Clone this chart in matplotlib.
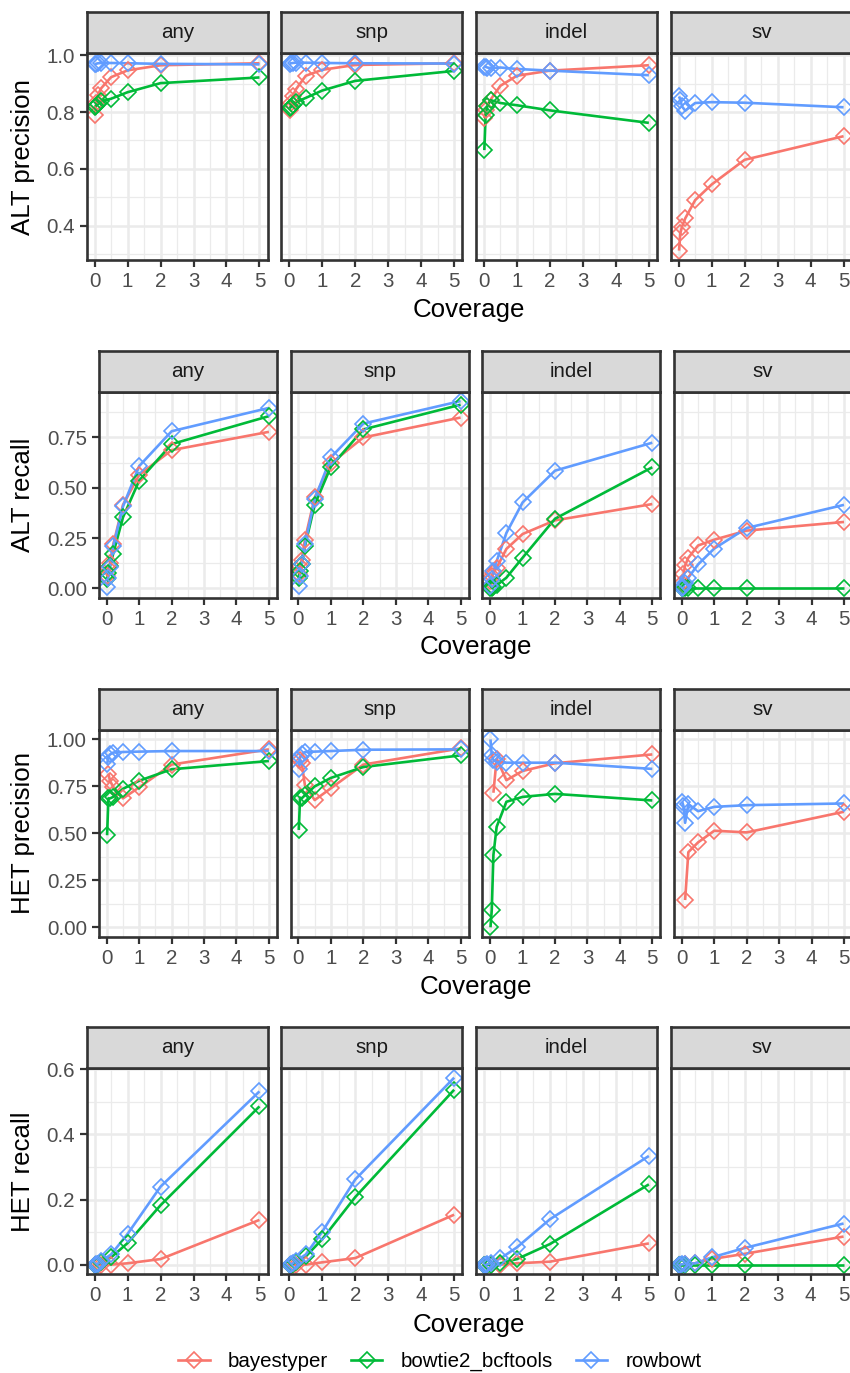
import numpy as np
import matplotlib
matplotlib.use('Agg')
import matplotlib.pyplot as plt
from matplotlib.lines import Line2D
from matplotlib.ticker import FixedLocator, FuncFormatter

plt.rcParams['font.family'] = ['Liberation Sans', 'DejaVu Sans']

nan = np.nan
coverage = [0.01, 0.05, 0.1, 0.2, 0.5, 1, 2, 5]
categories = ['any', 'snp', 'indel', 'sv']
methods = ['bayestyper', 'bowtie2_bcftools', 'rowbowt']
colors = ['#F8766D', '#00BA38', '#619CFF']
metrics = ['ALT precision', 'ALT recall', 'HET precision', 'HET recall']

# ALT precision
alt_prec_bayestyper = {
    'any':   [0.789, 0.832, 0.861, 0.884, 0.923, 0.947, 0.965, 0.972],
    'snp':   [0.809, 0.832, 0.855, 0.880, 0.928, 0.949, 0.966, 0.972],
    'indel': [0.779, 0.808, 0.823, 0.844, 0.893, 0.928, 0.946, 0.965],
    'sv':    [0.312, 0.373, 0.396, 0.426, 0.490, 0.545, 0.632, 0.715],
}
alt_prec_bowtie2 = {
    'any':   [0.818, 0.823, 0.828, 0.838, 0.847, 0.870, 0.902, 0.922],
    'snp':   [0.814, 0.818, 0.825, 0.835, 0.850, 0.876, 0.910, 0.945],
    'indel': [0.666, 0.791, 0.820, 0.842, 0.832, 0.824, 0.806, 0.762],
    'sv':    [nan, nan, nan, nan, nan, nan, nan, nan],
}
alt_prec_rowbowt = {
    'any':   [0.968, 0.970, 0.972, 0.973, 0.973, 0.972, 0.970, 0.968],
    'snp':   [0.970, 0.972, 0.973, 0.974, 0.974, 0.973, 0.972, 0.971],
    'indel': [0.960, 0.960, 0.957, 0.955, 0.957, 0.952, 0.946, 0.930],
    'sv':    [0.855, 0.844, 0.820, 0.805, 0.832, 0.835, 0.833, 0.817],
}

# ALT recall
alt_rec_bayestyper = {
    'any':   [0.061, 0.099, 0.127, 0.218, 0.415, 0.564, 0.687, 0.778],
    'snp':   [0.069, 0.110, 0.143, 0.242, 0.452, 0.621, 0.750, 0.849],
    'indel': [0.036, 0.061, 0.077, 0.102, 0.196, 0.270, 0.338, 0.419],
    'sv':    [0.028, 0.069, 0.114, 0.152, 0.213, 0.242, 0.287, 0.330],
}
alt_rec_bowtie2 = {
    'any':   [0.045, 0.077, 0.110, 0.173, 0.353, 0.536, 0.717, 0.856],
    'snp':   [0.053, 0.086, 0.119, 0.209, 0.415, 0.605, 0.790, 0.913],
    'indel': [0.000, 0.003, 0.008, 0.015, 0.053, 0.152, 0.346, 0.602],
    'sv':    [0.0, 0.0, 0.0, 0.0, 0.0, 0.0, 0.0, 0.0],
}
alt_rec_rowbowt = {
    'any':   [0.008, 0.053, 0.107, 0.209, 0.407, 0.608, 0.781, 0.897],
    'snp':   [0.012, 0.061, 0.119, 0.218, 0.443, 0.651, 0.819, 0.931],
    'indel': [0.012, 0.045, 0.086, 0.135, 0.275, 0.427, 0.585, 0.724],
    'sv':    [0.003, 0.008, 0.028, 0.053, 0.119, 0.198, 0.300, 0.415],
}

# HET precision
het_prec_bayestyper = {
    'any':   [nan, 0.818, 0.780, 0.747, 0.686, 0.745, 0.866, 0.947],
    'snp':   [nan, 0.893, 0.876, 0.755, 0.677, 0.740, 0.866, 0.952],
    'indel': [nan, nan, 0.716, 0.898, 0.783, 0.832, 0.873, 0.920],
    'sv':    [nan, nan, 0.145, 0.400, 0.452, 0.514, 0.505, 0.615],
}
het_prec_bowtie2 = {
    'any':   [0.490, 0.686, 0.686, 0.694, 0.737, 0.780, 0.841, 0.885],
    'snp':   [0.518, 0.690, 0.686, 0.703, 0.750, 0.795, 0.853, 0.915],
    'indel': [0.000, 0.094, 0.385, 0.535, 0.668, 0.694, 0.710, 0.675],
    'sv':    [nan, nan, nan, nan, nan, nan, nan, nan],
}
het_prec_rowbowt = {
    'any':   [0.868, 0.908, 0.920, 0.930, 0.933, 0.935, 0.938, 0.938],
    'snp':   [0.845, 0.906, 0.920, 0.933, 0.935, 0.938, 0.945, 0.947],
    'indel': [1.000, 0.915, 0.890, 0.880, 0.876, 0.876, 0.876, 0.843],
    'sv':    [0.668, 0.645, 0.556, 0.655, 0.618, 0.641, 0.650, 0.659],
}

# HET recall
het_rec_bayestyper = {
    'any':   [0.0, 0.0, 0.0005, 0.001, 0.001, 0.005, 0.018, 0.138],
    'snp':   [0.0, 0.0, 0.0005, 0.001, 0.001, 0.008, 0.021, 0.154],
    'indel': [0.0, 0.0, 0.0, 0.0005, 0.001, 0.005, 0.010, 0.066],
    'sv':    [0.0, 0.0, 0.001, 0.002, 0.005, 0.018, 0.034, 0.087],
}
het_rec_bowtie2 = {
    'any':   [0.0, 0.001, 0.003, 0.008, 0.023, 0.067, 0.183, 0.486],
    'snp':   [0.0, 0.001, 0.003, 0.009, 0.026, 0.079, 0.208, 0.537],
    'indel': [0.0, 0.0, 0.0005, 0.001, 0.005, 0.018, 0.064, 0.247],
    'sv':    [0.0, 0.0, 0.0, 0.0, 0.0, 0.0, 0.0, 0.0],
}
het_rec_rowbowt = {
    'any':   [0.0, 0.002, 0.004, 0.012, 0.032, 0.095, 0.240, 0.532],
    'snp':   [0.0, 0.002, 0.005, 0.012, 0.032, 0.102, 0.262, 0.574],
    'indel': [0.0, 0.001, 0.002, 0.005, 0.020, 0.054, 0.140, 0.334],
    'sv':    [0.0, 0.001, 0.002, 0.003, 0.005, 0.023, 0.052, 0.127],
}

row_data = [
    [alt_prec_bayestyper, alt_prec_bowtie2, alt_prec_rowbowt],
    [alt_rec_bayestyper, alt_rec_bowtie2, alt_rec_rowbowt],
    [het_prec_bayestyper, het_prec_bowtie2, het_prec_rowbowt],
    [het_rec_bayestyper, het_rec_bowtie2, het_rec_rowbowt],
]

x_major = [0, 1, 2, 3, 4, 5]
x_minor = [0.5, 1.5, 2.5, 3.5, 4.5]
y_major = [[0.4, 0.6, 0.8, 1.0], [0.0, 0.25, 0.5, 0.75],
           [0.0, 0.25, 0.5, 0.75, 1.0], [0.0, 0.2, 0.4, 0.6]]
y_minor = [[0.3, 0.5, 0.7, 0.9], [0.125, 0.375, 0.625, 0.875],
           [0.125, 0.375, 0.625, 0.875], [0.1, 0.3, 0.5]]
y_fmt = ['%.1f', '%.2f', '%.2f', '%.1f']

# layout in pixels
W, H = 850, 1373
layout = [
    dict(left=86.7, step=194.7, width=181.0, strip_top=12.0, ptop=53.3, pbot=260.0, xlab=310.0),
    dict(left=99.0, step=191.7, width=178.0, strip_top=350.7, ptop=391.7, pbot=597.7, xlab=646.7),
    dict(left=99.0, step=191.7, width=178.0, strip_top=689.0, ptop=730.0, pbot=936.7, xlab=986.7),
    dict(left=86.7, step=194.7, width=181.0, strip_top=1027.0, ptop=1068.3, pbot=1274.3, xlab=1325.0),
]

fig = plt.figure(figsize=(W / 100, H / 100), dpi=100)


def px_axes(left, top, width, height):
    return fig.add_axes([left / W, 1 - (top + height) / H, width / W, height / H])


BORDER = '#333333'
GRID = '#EBEBEB'
TICKTXT = '#4D4D4D'
LW = 1.9
MS = 8.6
MEW = 1.2
LINEW = 1.9
xmin, xmax = min(coverage), max(coverage)
xpad = 0.05 * (xmax - xmin)

for r in range(4):
    L = layout[r]
    allv = np.concatenate([np.array(d[c], dtype=float) for d in row_data[r] for c in categories])
    ymin, ymax = np.nanmin(allv), np.nanmax(allv)
    ypad = 0.05 * (ymax - ymin)
    for ci, cat in enumerate(categories):
        left = L['left'] + ci * L['step']
        ax = px_axes(left, L['ptop'], L['width'], L['pbot'] - L['ptop'])
        ax.set_xlim(xmin - xpad, xmax + xpad)
        ax.set_ylim(ymin - ypad, ymax + ypad)
        ax.xaxis.set_major_locator(FixedLocator(x_major))
        ax.xaxis.set_minor_locator(FixedLocator(x_minor))
        ax.yaxis.set_major_locator(FixedLocator(y_major[r]))
        ax.yaxis.set_minor_locator(FixedLocator(y_minor[r]))
        ax.xaxis.set_major_formatter(FuncFormatter(lambda v, p: '%d' % v))
        fmt = y_fmt[r]
        ax.yaxis.set_major_formatter(FuncFormatter(lambda v, p, f=fmt: f % v))
        ax.set_axisbelow(True)
        ax.grid(which='major', color=GRID, lw=1.8)
        ax.grid(which='minor', color=GRID, lw=0.9)
        ax.tick_params(which='minor', length=0)
        ax.tick_params(which='major', length=4.7, width=1.6, color=BORDER,
                       labelcolor=TICKTXT, labelsize=14.8, pad=4.0)
        if ci > 0:
            ax.tick_params(axis='y', which='major', length=0, labelleft=False)
        for s in ax.spines.values():
            s.set_color(BORDER)
            s.set_linewidth(LW)
            s.set_zorder(5)
        for mi, (d, col) in enumerate(zip(row_data[r], colors)):
            vals = np.array(d[cat], dtype=float)
            ax.plot(coverage, vals, color=col, lw=LINEW, zorder=2 + mi * 0.01,
                    solid_capstyle='butt')
        for mi, (d, col) in enumerate(zip(row_data[r], colors)):
            vals = np.array(d[cat], dtype=float)
            ax.plot(coverage, vals, ls='none', marker='D', ms=MS, mfc='none',
                    mec=col, mew=MEW, zorder=3 + mi * 0.01)
        # strip
        sax = px_axes(left, L['strip_top'], L['width'], L['ptop'] - L['strip_top'])
        sax.set_facecolor('#D9D9D9')
        sax.set_xticks([])
        sax.set_yticks([])
        for s in sax.spines.values():
            s.set_color(BORDER)
            s.set_linewidth(LW)
        sax.text(0.5, 0.5, cat, transform=sax.transAxes, ha='center', va='center',
                 fontsize=14.8, color='#1A1A1A')
    # axis titles
    ycen = (L['ptop'] + L['pbot']) / 2
    fig.text(23 / W, 1 - ycen / H, metrics[r], rotation=90, ha='center', va='center',
             fontsize=18.6, color='black')
    xc = (L['left'] + 3 * L['step'] + L['width'] + L['left']) / 2
    fig.text(xc / W, 1 - L['xlab'] / H, 'Coverage', ha='center', va='center',
             fontsize=18.6, color='black')

handles = [Line2D([], [], color=c, lw=LINEW, marker='D', ms=MS, mfc='none', mec=c, mew=MEW)
           for c in colors]
fig.legend(handles, methods, loc='center', bbox_to_anchor=(440 / W, 1 - 1361.7 / H),
           ncol=3, frameon=False, fontsize=14.8, handlelength=1.53, handletextpad=0.9,
           columnspacing=1.1, borderpad=0, borderaxespad=0)

fig.savefig('out.png', dpi=100)
